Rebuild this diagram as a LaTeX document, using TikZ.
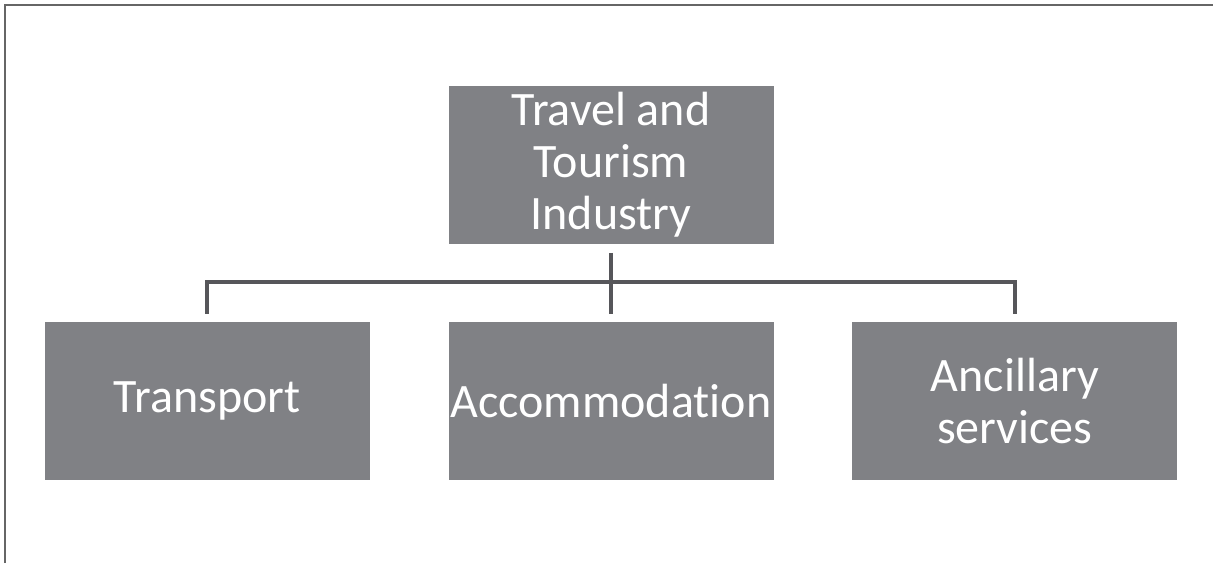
\documentclass[tikz,border=0pt]{standalone}
\usepackage{fontspec}
\setmainfont{Carlito}[Ligatures=NoCommon]
\usepackage{xcolor}
\usepackage{tikz}
\usetikzlibrary{positioning}

\definecolor{boxgray}{HTML}{808185}
\definecolor{linegray}{HTML}{56565A}
\definecolor{framegray}{HTML}{666666}

\begin{document}
\begin{tikzpicture}[
  sector/.style={fill=boxgray, text=white, minimum width=162.5pt, minimum height=79pt,
    inner sep=1pt, align=center, font=\fontsize{24}{26}\selectfont},
  conn/.style={draw=linegray, line width=2pt, line join=miter},
  frame/.style={draw=framegray, line width=1.2pt}]
\useasboundingbox (0,0) rectangle (606.5pt,-281.5pt);
% frame
\coordinate (fbl) at (2.5pt,-281.5pt);
\coordinate (ftl) at (2.5pt,-2.5pt);
\coordinate (ftr) at (606.5pt,-2.5pt);
\draw [frame] (fbl) -- (ftl) -- (ftr);

% top
\node (industry) [sector] at (305.5pt,-82.25pt) {Travel and\\Tourism\\Industry};

% bottom row
\node (accom) [sector, below=39pt of industry] {Accommodation};
\node (transport) [sector, left=39pt of accom] {Transport};
\node (ancillary) [sector, right=39pt of accom] {Ancillary\\services};

\draw [conn] ([yshift=-4.5pt]industry.south) -- ([yshift=4pt]accom.north);
\draw [conn] ([yshift=4pt]transport.north) -- ++(0,16pt) -| ([yshift=4pt]ancillary.north);
\end{tikzpicture}
\end{document}
